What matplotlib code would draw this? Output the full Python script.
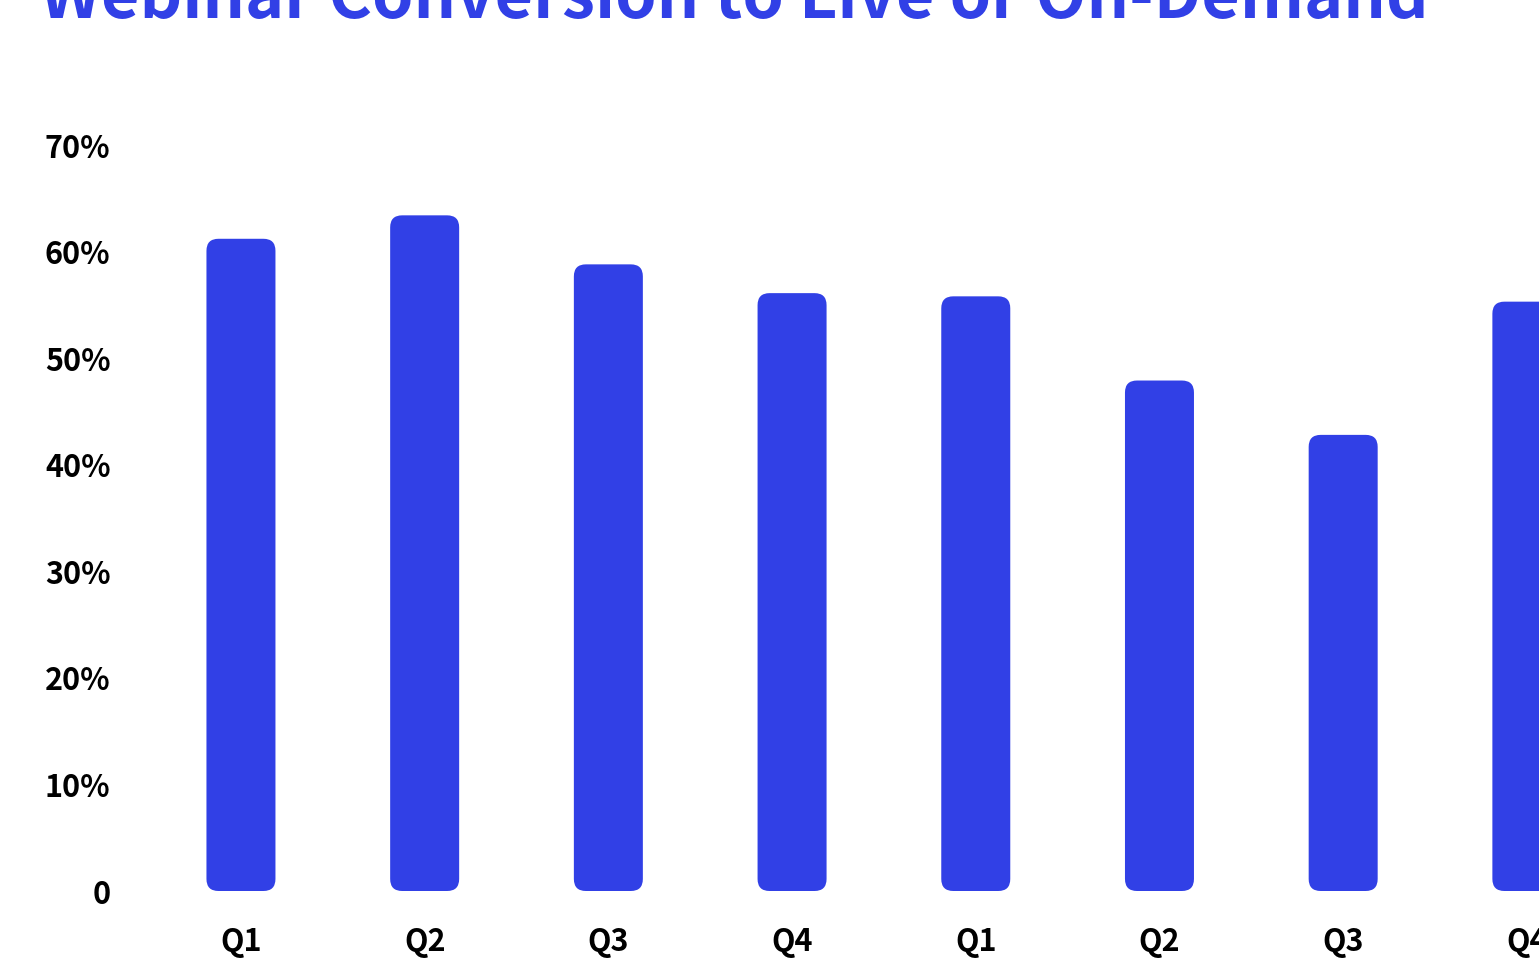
import matplotlib
matplotlib.use('Agg')
import matplotlib.pyplot as plt
from matplotlib.patches import FancyBboxPatch

quarters = ['Q1', 'Q2', 'Q3', 'Q4', 'Q1', 'Q2', 'Q3', 'Q4']
conversion = [61.2, 63.4, 58.8, 56.1, 55.8, 47.9, 42.8, 55.3]
yticks = [0, 10, 20, 30, 40, 50, 60, 70]
ytick_labels = ['0'] + ['%d%%' % v for v in yticks[1:]]

blue = '#3140E6'
plt.rcParams['font.family'] = ['Noto Sans CJK SC', 'DejaVu Sans']

fig = plt.figure(figsize=(15.39, 9.74), dpi=100)
ax = fig.add_axes([130 / 1539, 1 - 891 / 974, 1 - 130 / 1539, 746 / 974])
ax.set_xlim(-0.604, 7.066)
ax.set_ylim(0, 70)

# rounded bars: keep the corners circular in pixel space
px_x = 183.7
px_y = 746 / 70.0
w = 69 / px_x
r = 12 / px_x
for i, v in enumerate(conversion):
    p = FancyBboxPatch((i - w / 2, 0), w, v,
                       boxstyle='round,pad=0,rounding_size=%f' % r,
                       mutation_aspect=px_x / px_y,
                       fc=blue, ec='none', clip_on=False)
    ax.add_patch(p)

ax.set_yticks(yticks)
ax.set_yticklabels(ytick_labels, fontsize=22, fontweight='bold')
ax.set_xticks(range(len(quarters)))
ax.set_xticklabels(quarters, fontsize=22, fontweight='bold')
ax.tick_params(axis='y', length=0, pad=14)
ax.tick_params(axis='x', length=0, pad=25)
for s in ax.spines.values():
    s.set_visible(False)

fig.text(40 / 1539, 1 - 18 / 974, 'Webinar Conversion to Live or On-Demand',
         color=blue, fontsize=47.9, fontweight='bold', va='baseline', ha='left')

fig.savefig('out.png', dpi=100, facecolor='white')
